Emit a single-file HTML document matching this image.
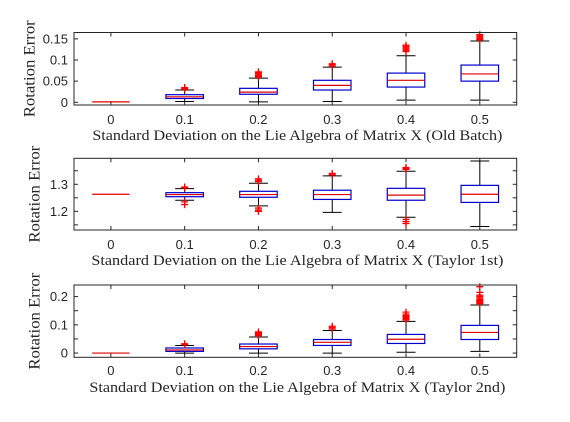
<!DOCTYPE html>
<html><head><meta charset="utf-8"><style>
html,body{margin:0;padding:0;background:#fff;}
svg{display:block;}
.tick{font-family:"Liberation Sans",sans-serif;font-size:13px;fill:#262626;}
.lab{font-family:"Liberation Serif",serif;font-size:14.5px;fill:#262626;}
.ylab{font-family:"Liberation Serif",serif;font-size:15.5px;fill:#262626;}
</style></head><body>
<svg id="chart" width="570" height="422" viewBox="0 0 570 422"></svg>
<script>
// ---- data ----
const categories = ["0","0.1","0.2","0.3","0.4","0.5"];
// Panel 1 (Old Batch)
const p1Median = [0.001,0.013,0.024,0.040,0.052,0.067];
const p1Q1 = [0.001,0.009,0.019,0.029,0.036,0.050];
const p1Q3 = [0.001,0.018,0.033,0.052,0.069,0.088];
const p1Lo = [0.001,0.002,0.001,0.002,0.005,0.005];
const p1Hi = [0.001,0.029,0.057,0.083,0.110,0.145];
const p1Out = [[],[0.031,0.033,0.035],[0.060,0.062,0.064,0.067,0.070,0.072],[0.086,0.089,0.091],[0.120,0.123,0.126,0.129,0.132,0.135],[0.148,0.151,0.154,0.157,0.160]];
const p1Ticks = [0,0.05,0.1,0.15];
const p1TickLabels = ["0","0.05","0.1","0.15"];
// Panel 2 (Taylor 1st)
const p2Median = [1.263,1.262,1.262,1.262,1.260,1.263];
const p2Q1 = [1.263,1.254,1.252,1.244,1.241,1.233];
const p2Q3 = [1.263,1.269,1.274,1.278,1.285,1.296];
const p2Lo = [1.263,1.241,1.220,1.196,1.178,1.144];
const p2Hi = [1.263,1.284,1.304,1.331,1.348,1.386];
const p2Out = [[],[1.287,1.290,1.235,1.225],[1.310,1.315,1.320,1.212,1.205,1.200],[1.335,1.340],[1.355,1.358,1.362,1.170,1.162,1.155],[]];
const p2Ticks = [1.15,1.2,1.25,1.3,1.35];
const p2TickLabels = ["","1.2","","1.3",""];
// Panel 3 (Taylor 2nd)
const p3Median = [0.0,0.011,0.023,0.038,0.049,0.073];
const p3Q1 = [0.0,0.006,0.015,0.027,0.034,0.048];
const p3Q3 = [0.0,0.018,0.032,0.048,0.066,0.098];
const p3Lo = [0.0,0.0,0.0,0.0,0.003,0.006];
const p3Hi = [0.0,0.027,0.057,0.080,0.112,0.170];
const p3Out = [[],[0.030,0.033],[0.062,0.064,0.066,0.068,0.071,0.075],[0.085,0.090,0.095],[0.117,0.120,0.123,0.126,0.129,0.133,0.138,0.145],[0.175,0.178,0.181,0.184,0.187,0.190,0.195,0.200,0.205,0.215,0.235]];
const p3Ticks = [0,0.05,0.1,0.15,0.2];
const p3TickLabels = ["0","","0.1","","0.2"];

const NS="http://www.w3.org/2000/svg";
const svg=document.getElementById('chart');
function mk(tag,attrs,parent){const e=document.createElementNS(NS,tag);for(const k in attrs)e.setAttribute(k,attrs[k]);(parent||svg).appendChild(e);return e;}

const panels=[
 {top:32.5,bottom:105,ymin:-0.0064,ymax:0.165,med:p1Median,q1:p1Q1,q3:p1Q3,lo:p1Lo,hi:p1Hi,out:p1Out,ticks:p1Ticks,tl:p1TickLabels,xlabY:140,tickY:124,ylabX:29,label:"Standard Deviation on the Lie Algebra of Matrix X (Old Batch)",lw:410,name:"old-batch"},
 {top:158.3,bottom:230,ymin:1.131,ymax:1.396,med:p2Median,q1:p2Q1,q3:p2Q3,lo:p2Lo,hi:p2Hi,out:p2Out,ticks:p2Ticks,tl:p2TickLabels,xlabY:265,tickY:249,ylabX:34,label:"Standard Deviation on the Lie Algebra of Matrix X (Taylor 1st)",lw:412,name:"taylor-1st"},
 {top:285,bottom:357.3,ymin:-0.015,ymax:0.241,med:p3Median,q1:p3Q1,q3:p3Q3,lo:p3Lo,hi:p3Hi,out:p3Out,ticks:p3Ticks,tl:p3TickLabels,xlabY:392,tickY:375,ylabX:34,label:"Standard Deviation on the Lie Algebra of Matrix X (Taylor 2nd)",lw:416,name:"taylor-2nd"}
];
const L=74,R=516.7;
const xs=i=>L+(i+0.5)*(R-L)/categories.length;
const BW=37.5,CW=19;

panels.forEach((p,pi)=>{
  const g=mk('g',{});
  
  
  const ys=v=>p.bottom-(v-p.ymin)/(p.ymax-p.ymin)*(p.bottom-p.top);
  p.ticks.forEach((t,k)=>{
    const y=ys(t);
    mk('line',{x1:L,x2:L+4,y1:y,y2:y,stroke:'#262626','stroke-width':1},g);
    mk('line',{x1:R-4,x2:R,y1:y,y2:y,stroke:'#262626','stroke-width':1},g);
    if(p.tl[k]){const tx=mk('text',{x:L-6,y:y+4.5,'text-anchor':'end',class:'tick'},g);tx.textContent=p.tl[k];
      
      }
  });
  categories.forEach((c,i)=>{
    const x=xs(i);
    mk('line',{x1:x,x2:x,y1:p.top,y2:p.top+4,stroke:'#262626','stroke-width':1},g);
    mk('line',{x1:x,x2:x,y1:p.bottom,y2:p.bottom-4,stroke:'#262626','stroke-width':1},g);
    const tx=mk('text',{x:x,y:p.tickY,'text-anchor':'middle',class:'tick'},g);tx.textContent=c;
    
    
    const bg=mk('g',{},g);
    
    
    const yq1=ys(p.q1[i]),yq3=ys(p.q3[i]),ylo=ys(p.lo[i]),yhi=ys(p.hi[i]),ym=ys(p.med[i]);
    if(p.hi[i]!==p.lo[i]){
      mk('line',{x1:x,x2:x,y1:yhi,y2:yq3,stroke:'#000','stroke-width':1},bg);
      mk('line',{x1:x,x2:x,y1:yq1,y2:ylo,stroke:'#000','stroke-width':1},bg);
      mk('line',{x1:x-CW/2,x2:x+CW/2,y1:yhi,y2:yhi,stroke:'#000','stroke-width':1},bg);
      mk('line',{x1:x-CW/2,x2:x+CW/2,y1:ylo,y2:ylo,stroke:'#000','stroke-width':1},bg);
    }
    if(p.q3[i]!==p.q1[i]) mk('rect',{x:x-BW/2,y:yq3,width:BW,height:Math.max(0.5,yq1-yq3),fill:'none',stroke:'#0000cc','stroke-width':1.2},bg);
    mk('line',{x1:x-BW/2,x2:x+BW/2,y1:ym,y2:ym,stroke:'#dd0000','stroke-width':1.2},bg);
    p.out[i].forEach(v=>{
      const y=ys(v);
      const o=mk('path',{d:`M${x-3.5},${y}H${x+3.5}M${x},${y-3.5}V${y+3.5}`,stroke:'#ff0000','stroke-width':1.3},bg);
      
      
    });
  });
  const fr=mk('rect',{x:L,y:p.top,width:R-L,height:p.bottom-p.top,fill:'none',stroke:'#262626','stroke-width':1},g);
  
  
  const xl=mk('text',{x:(L+R)/2+2,y:p.xlabY,'text-anchor':'middle',class:'lab',textLength:p.lw,lengthAdjust:'spacingAndGlyphs'},g);
  xl.textContent=p.label;
  
  
  const cy=(p.top+p.bottom)/2;
  const yl=mk('text',{x:p.ylabX,y:cy,'text-anchor':'middle',class:'ylab',transform:`rotate(-90 ${p.ylabX} ${cy})`,dy:'0.35em',textLength:97,lengthAdjust:'spacingAndGlyphs'},g);
  yl.textContent='Rotation Error';
  
  
});
</script>
</body></html>
